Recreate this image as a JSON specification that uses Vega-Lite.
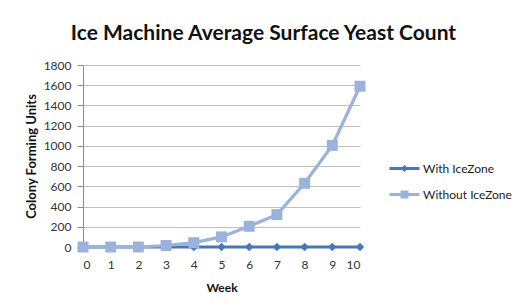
{
  "$schema": "https://vega.github.io/schema/vega-lite/v6.json",
  "width": 277,
  "height": 182,
  "autosize": {"type": "none"},
  "padding": {"left": 83, "top": 65, "right": 166, "bottom": 58},
  "background": "white",
  "title": {
    "text": "Ice Machine Average Surface Yeast Count",
    "anchor": "middle",
    "frame": "group",
    "dx": 42,
    "offset": -2,
    "baseline": "alphabetic",
    "font": "Lato",
    "fontSize": 21,
    "fontWeight": "bold",
    "color": "#111111"
  },
  "data": {
    "values": [
      {"week": 0, "series": "With IceZone", "cfu": 0},
      {"week": 1, "series": "With IceZone", "cfu": 0},
      {"week": 2, "series": "With IceZone", "cfu": 0},
      {"week": 3, "series": "With IceZone", "cfu": 0},
      {"week": 4, "series": "With IceZone", "cfu": 0},
      {"week": 5, "series": "With IceZone", "cfu": 0},
      {"week": 6, "series": "With IceZone", "cfu": 0},
      {"week": 7, "series": "With IceZone", "cfu": 0},
      {"week": 8, "series": "With IceZone", "cfu": 0},
      {"week": 9, "series": "With IceZone", "cfu": 0},
      {"week": 10, "series": "With IceZone", "cfu": 0},
      {"week": 0, "series": "Without IceZone", "cfu": 0},
      {"week": 1, "series": "Without IceZone", "cfu": 0},
      {"week": 2, "series": "Without IceZone", "cfu": 0},
      {"week": 3, "series": "Without IceZone", "cfu": 15},
      {"week": 4, "series": "Without IceZone", "cfu": 43},
      {"week": 5, "series": "Without IceZone", "cfu": 100},
      {"week": 6, "series": "Without IceZone", "cfu": 205},
      {"week": 7, "series": "Without IceZone", "cfu": 320},
      {"week": 8, "series": "Without IceZone", "cfu": 630},
      {"week": 9, "series": "Without IceZone", "cfu": 1005},
      {"week": 10, "series": "Without IceZone", "cfu": 1590}
    ]
  },
  "encoding": {
    "x": {
      "field": "week",
      "type": "quantitative",
      "scale": {"domain": [0, 10], "nice": false, "zero": false},
      "axis": {
        "title": "Week",
        "values": [0, 1, 2, 3, 4, 5, 6, 7, 8, 9, 10],
        "format": "d",
        "grid": false,
        "domain": false,
        "ticks": false,
        "tickSize": 0,
        "labelPadding": 12,
        "titlePadding": 12
      }
    },
    "y": {
      "field": "cfu",
      "type": "quantitative",
      "scale": {"domain": [0, 1800], "nice": false},
      "axis": {
        "title": "Colony Forming Units",
        "titleFontSize": 13,
        "values": [0, 200, 400, 600, 800, 1000, 1200, 1400, 1600, 1800],
        "format": "d",
        "grid": true,
        "gridColor": "#BEBEBE",
        "gridWidth": 1.2,
        "domainColor": "#8C8C8C",
        "tickColor": "#8C8C8C",
        "tickSize": 6,
        "labelPadding": 6,
        "titlePadding": 5
      }
    },
    "color": {
      "field": "series",
      "type": "nominal",
      "scale": {"domain": ["With IceZone", "Without IceZone"], "range": ["#4877B8", "#9AB2DC"]},
      "legend": {
        "title": null,
        "orient": "none",
        "legendX": 310,
        "legendY": 92,
        "padding": 0,
        "symbolSize": 400,
        "symbolOpacity": 1,
        "symbolStrokeWidth": 3,
        "labelOffset": 7,
        "rowPadding": 7,
        "labelFont": "Lato",
        "labelFontSize": 12,
        "labelColor": "#222222"
      }
    }
  },
  "layer": [
    {
      "mark": {"type": "line", "strokeWidth": 3.2}
    },
    {
      "transform": [{"filter": "datum.series === 'With IceZone'"}],
      "mark": {"type": "point", "filled": true, "opacity": 1, "shape": "diamond", "size": 70}
    },
    {
      "transform": [{"filter": "datum.series === 'Without IceZone'"}],
      "mark": {"type": "point", "filled": true, "opacity": 1, "shape": "square", "size": 120}
    },
    {
      "mark": {"type": "point", "filled": true, "opacity": 0},
      "encoding": {
        "shape": {
          "field": "series",
          "type": "nominal",
          "scale": {
            "domain": ["With IceZone", "Without IceZone"],
            "range": [
              "M-1.5,0H1.5M0,-0.15L0.15,0L0,0.15L-0.15,0Z",
              "M-1.5,0H1.5M-0.25,-0.25H0.25V0.25H-0.25ZM-0.05,-0.05H0.05V0.05H-0.05Z"
            ]
          }
        }
      }
    }
  ],
  "config": {
    "font": "Lato",
    "view": {"stroke": null},
    "axis": {
      "labelFont": "Lato",
      "labelFontSize": 12,
      "labelColor": "#333333",
      "titleFont": "Lato",
      "titleFontSize": 12,
      "titleFontWeight": "bold",
      "titleColor": "#111111"
    }
  }
}
